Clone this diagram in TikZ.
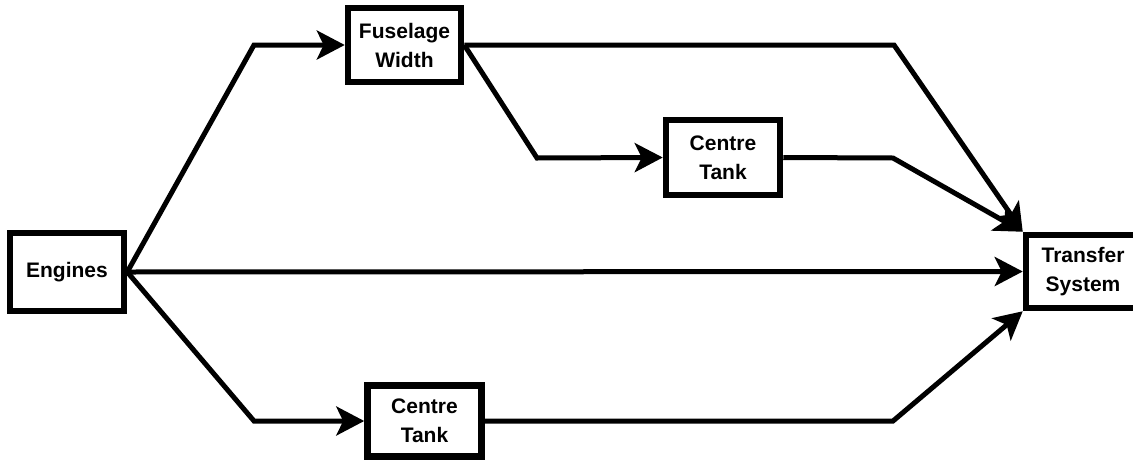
\documentclass[tikz,border=0pt]{standalone}
\usepackage{fontspec}
\setmainfont{Liberation Sans}
\usetikzlibrary{arrows.meta}
\begin{document}
\begin{tikzpicture}[x=1pt,y=-1pt,
  blockbox/.style={draw=black,line width=6.5pt,fill=white,inner sep=0pt,
    align=center,font=\fontsize{21}{29}\selectfont\bfseries},
  flow/.style={line width=5pt,
    -{Stealth[length=28pt,width=29pt,inset=7pt]}}]
\useasboundingbox (0,0) rectangle (1133,461);

% blocks
\node[blockbox,minimum width=114pt,minimum height=78pt] (engines) at (67,272) {Engines};
\node[blockbox,minimum width=113pt,minimum height=74pt] (fw) at (404.5,45) {Fuselage\\Width};
\node[blockbox,minimum width=114pt,minimum height=75pt] (cta) at (723,157.5) {Centre\\Tank};
\node[blockbox,minimum width=114pt,minimum height=71pt] (ctb) at (424.5,421) {Centre\\Tank};
\node[blockbox,minimum width=114pt,minimum height=73pt] (ts) at (1083,271.5) {Transfer\\System};

% bend points
\coordinate (k1) at (254,45);
\coordinate (k2) at (894,45);
\coordinate (k3) at (537,158);
\coordinate (k4) at (893,158);
\coordinate (k5) at (254,421);
\coordinate (k6) at (893,421);

% connectors
\draw[flow] (engines.east) -- (k1) -- (fw.west);
\draw[flow] (fw.east) -- (k2) -- (ts.north west);
\draw[flow] (fw.east) -- (k3) -- (cta.west);
\draw[flow] (cta.east) -- (k4) -- (ts.north west);
\draw[flow] (engines.east) -- (ts.west);
\draw[flow] (engines.east) -- (k5) -- (ctb.west);
\draw[flow] (ctb.east) -- (k6) -- (ts.south west);
\end{tikzpicture}
\end{document}
